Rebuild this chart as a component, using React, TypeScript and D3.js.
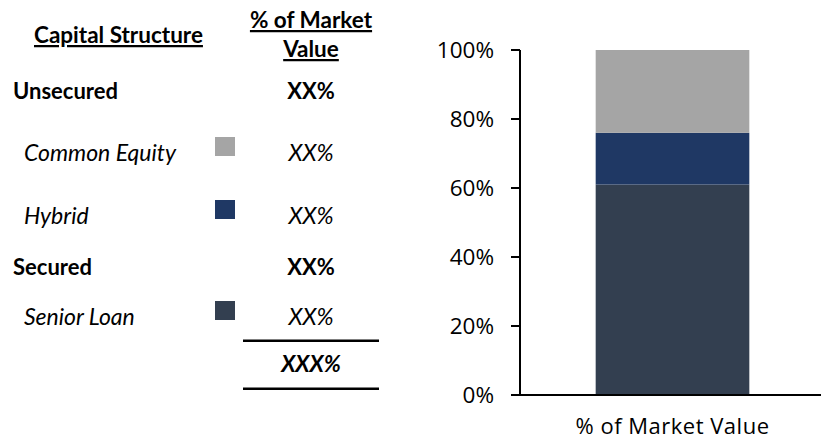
import React from "react";
import * as d3 from "d3";

const categories = ["% of Market Value"];
const seriesNames = ["Senior Loan", "Hybrid", "Common Equity"];
const seriesValues = [61, 15, 24];
const seriesColors = ["#333F50", "#1F3864", "#A5A5A5"];
const yTicks = [0, 20, 40, 60, 80, 100];

const tableHeaderLeft = "Capital Structure";
const tableHeaderRight = ["% of Market", "Value"];
const tableRows = [
  { label: "Unsecured", value: "XX%", kind: "group", series: -1 },
  { label: "Common Equity", value: "XX%", kind: "item", series: 2 },
  { label: "Hybrid", value: "XX%", kind: "item", series: 1 },
  { label: "Secured", value: "XX%", kind: "group", series: -1 },
  { label: "Senior Loan", value: "XX%", kind: "item", series: 0 },
];
const totalValue = "XXX%";

const W = 821;
const H = 440;
const tableFont = "Lato, 'Carlito', 'Liberation Sans', sans-serif";
const axisFont = "'Open Sans', 'Noto Sans', sans-serif";

export default function App() {
  const x = d3.scaleBand<string>().domain(categories).range([520, 825]).padding(0.33);
  const y = d3.scaleLinear().domain([0, 100]).range([395, 50]);

  const row: Record<string, number> = {};
  seriesNames.forEach((n, i) => (row[n] = seriesValues[i]));
  const stack = d3.stack<Record<string, number>>().keys(seriesNames);
  const stacked = stack([row]);

  const rowY = [99, 161, 224, 275, 325];
  const colX = 311;

  return (
    <svg
      width={W}
      height={H}
      style={{ position: "absolute", left: 0, top: 0, background: "#fff" }}
    >
      {/* Table header */}
      <text
        x={34}
        y={43}
        fontFamily={tableFont}
        fontWeight={700}
        fontSize={22.5}
        fill="#000"
        style={{ textDecoration: "underline" }}
      >
        {tableHeaderLeft}
      </text>
      {tableHeaderRight.map((t, i) => (
        <text
          key={t}
          x={colX}
          y={28 + i * 29}
          textAnchor="middle"
          fontFamily={tableFont}
          fontWeight={700}
          fontSize={22.5}
          fill="#000"
          style={{ textDecoration: "underline" }}
        >
          {t}
        </text>
      ))}

      {tableRows.map((r, i) => (
        <g key={r.label}>
          <text
            x={r.kind === "group" ? 13 : 24}
            y={rowY[i]}
            fontFamily={tableFont}
            fontWeight={r.kind === "group" ? 700 : 400}
            fontStyle={r.kind === "group" ? "normal" : "italic"}
            fontSize={r.kind === "group" ? 22 : 23}
            fill="#000"
          >
            {r.label}
          </text>
          <text
            x={colX}
            y={rowY[i]}
            textAnchor="middle"
            fontFamily={tableFont}
            fontWeight={r.kind === "group" ? 700 : 400}
            fontStyle={r.kind === "group" ? "normal" : "italic"}
            fontSize={r.kind === "group" ? 22 : 23}
            fill="#000"
          >
            {r.value}
          </text>
          {r.series >= 0 && (
            <rect
              x={215}
              y={rowY[i] - 24}
              width={20}
              height={19}
              fill={seriesColors[r.series]}
            />
          )}
        </g>
      ))}

      <line x1={243} x2={379} y1={340.7} y2={340.7} stroke="#000" strokeWidth={2.5} />
      <text
        x={colX}
        y={372}
        textAnchor="middle"
        fontFamily={tableFont}
        fontWeight={700}
        fontStyle="italic"
        fontSize={22.5}
        fill="#000"
      >
        {totalValue}
      </text>
      <line x1={243} x2={379} y1={388.7} y2={388.7} stroke="#000" strokeWidth={2.5} />

      {/* Bars */}
      {stacked.map((s, i) =>
        s.map((d, j) => (
          <rect
            key={`${i}-${j}`}
            x={x(categories[j])!}
            width={x.bandwidth()}
            y={y(d[1])}
            height={y(d[0]) - y(d[1])}
            fill={seriesColors[i]}
          />
        ))
      )}

      {/* Y axis */}
      <line x1={520} x2={520} y1={y(100)} y2={y(0)} stroke="#000" strokeWidth={2} />
      {yTicks.map((t) => (
        <g key={t}>
          <line x1={511} x2={520} y1={y(t)} y2={y(t)} stroke="#000" strokeWidth={2} />
          <text
            x={494}
            y={y(t)}
            dy="0.36em"
            textAnchor="end"
            fontFamily={axisFont}
            fontSize={22.5}
            fill="#000"
          >
            {`${t}%`}
          </text>
        </g>
      ))}
      {/* X axis */}
      <line x1={519} x2={W} y1={y(0)} y2={y(0)} stroke="#000" strokeWidth={2} />
      {categories.map((c) => (
        <text
          key={c}
          x={x(c)! + x.bandwidth() / 2}
          y={434}
          textAnchor="middle"
          fontFamily={axisFont}
          fontSize={22}
          letterSpacing={0.5}
          fill="#000"
        >
          {c}
        </text>
      ))}
    </svg>
  );
}
